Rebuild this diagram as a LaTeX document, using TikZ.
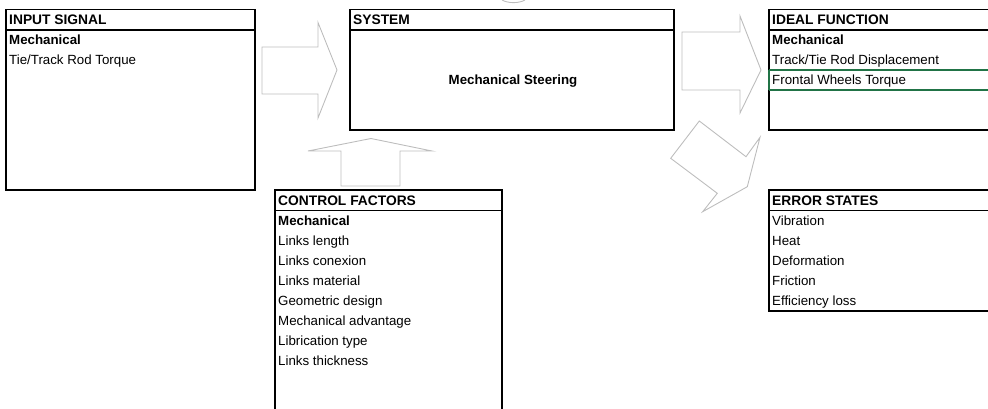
\documentclass[tikz,border=0pt]{standalone}
\usepackage{fontspec}
\setmainfont{Liberation Sans}
\definecolor{arrowgrey}{HTML}{BDBDBD}
\definecolor{selgreen}{HTML}{217346}
\tikzset{
  boxline/.style={draw=black, line width=1.2pt},
  blockarrow/.style={draw=arrowgrey, line width=0.9pt, line join=miter},
  hdr/.style={anchor=base west, inner sep=0pt, font=\fontsize{13.8}{15}\selectfont\bfseries},
  item/.style={anchor=base west, inner sep=0pt, font=\fontsize{13.3}{15}\selectfont},
  itembf/.style={anchor=base west, inner sep=0pt, font=\fontsize{13.3}{15}\selectfont\bfseries},
}
\begin{document}
\begin{tikzpicture}[x=1pt,y=-1pt]
\useasboundingbox (0,0) rectangle (988,409);
% block arrows
\draw[blockarrow] (262,47) -- (318,47) -- (318,22.5) -- (337,70) -- (318,118) -- (318,94) -- (262,94) -- cycle;
\draw[blockarrow] (341,186) -- (341,151) -- (308,151) -- (371,138.5) -- (432,151) -- (400,151) -- (400,186) -- cycle;
\draw[blockarrow] (682,32) -- (740,32) -- (740,16) -- (761,70) -- (740,113) -- (740,90) -- (682,90) -- cycle;
\draw[blockarrow] (699.3,121) -- (670.7,158.3) -- (717.3,193.3) -- (702.7,211.7) -- (747.3,186.7) -- (760,137.3) -- (746,156.7) -- cycle;
\draw[blockarrow] (502,0) .. controls (508,3.5) and (519,3.5) .. (525,0);
% INPUT SIGNAL
\draw[boxline] (6,9.5) rectangle (255,190);
\draw[boxline] (6,30) -- (255,30);
\node[hdr] (inhdr) at (9,24.6) {INPUT SIGNAL};
\node[itembf] (inmech) at (9,44.5) {Mechanical};
\node[item] (in1) at (9,64.5) {Tie/Track Rod Torque};
% SYSTEM
\draw[boxline] (350,9.5) rectangle (674,130);
\draw[boxline] (350,30) -- (674,30);
\node[hdr] (syshdr) at (353,24.6) {SYSTEM};
\node[inner sep=0pt, anchor=base, font=\fontsize{13.3}{15}\selectfont\bfseries] (sys) at (513,84.5) {Mechanical Steering};
% IDEAL FUNCTION
\draw[boxline] (988,9.5) -- (769,9.5) -- (769,130) -- (988,130);
\draw[boxline] (769,30) -- (988,30);
\draw[draw=selgreen, line width=1.2pt] (769,70) -- (988,70) (769,90) -- (988,90) (769,70) -- (769,90);
\node[hdr] (idhdr) at (772,24.6) {IDEAL FUNCTION};
\node[itembf] (idmech) at (772,44.5) {Mechanical};
\node[item] (id1) at (772,64.5) {Track/Tie Rod Displacement};
\node[item] (id2) at (772,84.5) {Frontal Wheels Torque};
% ERROR STATES
\draw[boxline] (988,190) -- (769,190) -- (769,311) -- (988,311);
\draw[boxline] (769,210.5) -- (988,210.5);
\node[hdr] (erhdr) at (772,205) {ERROR STATES};
\node[item] (er1) at (772,225) {Vibration};
\node[item] (er2) at (772,245) {Heat};
\node[item] (er3) at (772,265) {Deformation};
\node[item] (er4) at (772,285) {Friction};
\node[item] (er5) at (772,305) {Efficiency loss};
% CONTROL FACTORS
\draw[boxline] (275,409) -- (275,190) -- (502,190) -- (502,409);
\draw[boxline] (275,210.5) -- (502,210.5);
\node[hdr] (cfhdr) at (278,205) {CONTROL FACTORS};
\node[itembf] (cfmech) at (278,225) {Mechanical};
\node[item] (cf1) at (278,245) {Links length};
\node[item] (cf2) at (278,265) {Links conexion};
\node[item] (cf3) at (278,285) {Links material};
\node[item] (cf4) at (278,305) {Geometric design};
\node[item] (cf5) at (278,325) {Mechanical advantage};
\node[item] (cf6) at (278,345) {Librication type};
\node[item] (cf7) at (278,365) {Links thickness};
\end{tikzpicture}
\end{document}
